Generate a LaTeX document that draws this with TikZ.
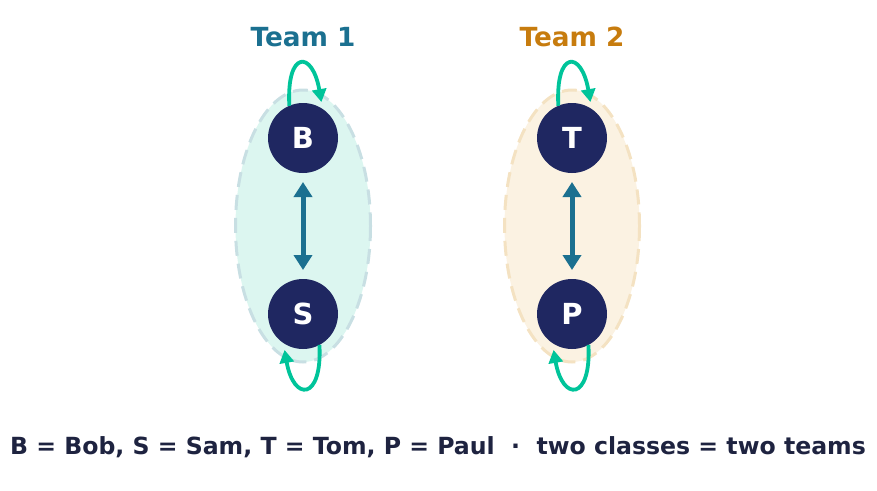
\documentclass[tikz,border=0pt]{standalone}
\usepackage{fontspec}
\setmainfont{DejaVu Sans}
\usetikzlibrary{arrows.meta}
\definecolor{navy}{HTML}{1F2761}
\definecolor{tealblue}{HTML}{1B7090}
\definecolor{teamtwo}{HTML}{C77C0E}
\definecolor{loopgreen}{HTML}{00C49A}
\definecolor{captioncol}{HTML}{1E2340}
\definecolor{mintfill}{HTML}{DCF6F0}
\definecolor{mintborder}{HTML}{C8DFE3}
\definecolor{creamfill}{HTML}{FBF2E2}
\definecolor{creamborder}{HTML}{F4E2C2}
\begin{document}
\begin{tikzpicture}[x=1pt,y=-1pt,
  person/.style={circle,fill=navy,minimum size=70pt,inner sep=0pt,outer sep=0pt,text=white,font=\bfseries\fontsize{29}{32}\selectfont},
  teamlabel/.style={font=\bfseries\fontsize{26.3}{30}\selectfont},
  ovalborder/.style={line width=3pt,dash pattern=on 15pt off 8pt},
  pair/.style={{Triangle[length=15pt,width=18pt]}-{Triangle[length=15pt,width=18pt]},line width=5pt,tealblue,shorten <=9pt,shorten >=9pt},
  selfloop/.style={-{Triangle[length=13pt,width=14pt]},line width=3.8pt,loopgreen}]
\useasboundingbox (0,0) rectangle (877,490);
\fill[mintfill] (303,226) ellipse [x radius=67.5, y radius=136];
\draw[mintborder,ovalborder] (303,226) ellipse [x radius=67.5, y radius=136];
\fill[creamfill] (572,226) ellipse [x radius=67.5, y radius=136];
\draw[creamborder,ovalborder] (572,226) ellipse [x radius=67.5, y radius=136];
\node[teamlabel,text=tealblue] (t1) at (303,37) {Team 1};
\node[teamlabel,text=teamtwo] (t2) at (572,37) {Team 2};
\node[person] (B) at (303,138) {B};
\node[person] (S) at (303,314) {S};
\node[person] (T) at (572,138) {T};
\node[person] (P) at (572,314) {P};
\draw[pair] (B) -- (S);
\draw[pair] (T) -- (P);
\draw[selfloop] (B.113) .. controls +(-3,-56) and +(-9,-52) .. ([shift={(2,-5)}]B.62);
\draw[selfloop] (T.113) .. controls +(-3,-56) and +(-9,-52) .. ([shift={(2,-5)}]T.62);
\draw[selfloop] (S.-62) .. controls +(3,56) and +(9,52) .. ([shift={(-2,5)}]S.-118);
\draw[selfloop] (P.-62) .. controls +(3,56) and +(9,52) .. ([shift={(-2,5)}]P.-118);
\node[font=\bfseries\fontsize{23.6}{27}\selectfont,text=captioncol] (cap) at (438,447) {B = Bob, S = Sam, T = Tom, P = Paul\ \ ·\ \ two classes = two teams};
\end{tikzpicture}
\end{document}
